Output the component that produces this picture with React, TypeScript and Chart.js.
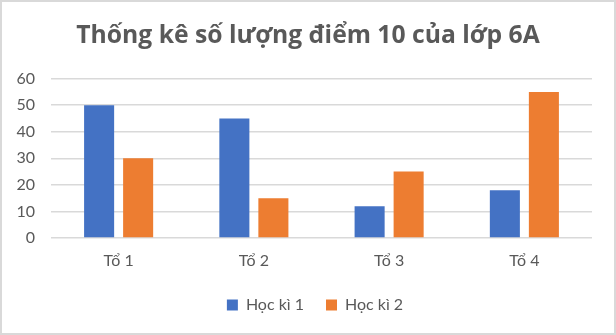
import React, { useEffect, useRef } from "react";
import { Chart, registerables } from "chart.js";

Chart.register(...registerables);

const categories = ["Tổ 1", "Tổ 2", "Tổ 3", "Tổ 4"];
const hocKi1 = [50, 45, 12, 18];
const hocKi2 = [30, 15, 25, 55];
const seriesNames = ["Học kì 1", "Học kì 2"];
const titleText = "Thống kê số lượng điểm 10 của lớp 6A";
const yMin = 0;
const yMax = 60;
const yStep = 10;

const TEXT = "#595959";
const GRID = "#d9d9d9";
const FONT = "Lato, 'Open Sans', sans-serif";
const TITLE_FONT = "'Open Sans', Lato, sans-serif";

const borderPlugin = {
  id: "outerBorder",
  afterLayout(chart: any) {
    // centre title and legend on the full canvas rather than on the padded box
    if (chart.titleBlock) {
      chart.titleBlock.left += 12;
      chart.titleBlock.right += 12;
    }
    if (chart.legend) {
      chart.legend.left += 19;
      chart.legend.right += 19;
    }
  },
  afterDraw(chart: any) {
    const ctx = chart.ctx;
    ctx.save();
    ctx.strokeStyle = GRID;
    ctx.lineWidth = 2;
    ctx.strokeRect(1, 1, chart.width - 2, chart.height - 2);
    ctx.restore();
  },
};

export default function App() {
  const ref = useRef<HTMLCanvasElement | null>(null);

  useEffect(() => {
    document.body.style.margin = "0";
    const canvas = ref.current;
    if (!canvas) return;
    const chart = new Chart(canvas, {
      type: "bar",
      data: {
        labels: categories,
        datasets: [
          {
            label: seriesNames[0],
            data: hocKi1,
            backgroundColor: "#4472C4",
            categoryPercentage: 0.577,
            barPercentage: 0.77,
          },
          {
            label: seriesNames[1],
            data: hocKi2,
            backgroundColor: "#ED7D31",
            categoryPercentage: 0.577,
            barPercentage: 0.77,
          },
        ],
      },
      plugins: [borderPlugin],
      options: {
        responsive: false,
        animation: false,
        devicePixelRatio: 1,
        layout: { padding: { left: 0, right: 24, top: 0, bottom: 12 } },
        plugins: {
          title: {
            display: true,
            text: titleText,
            color: TEXT,
            font: { family: TITLE_FONT, size: 24.7, weight: "bold" },
            padding: { top: 21, bottom: 28 },
          },
          legend: {
            display: true,
            position: "bottom",
            labels: {
              color: TEXT,
              font: { family: FONT, size: 16 },
              boxWidth: 11,
              boxHeight: 11,
              padding: 22,
            },
          },
          tooltip: { enabled: false },
        },
        scales: {
          x: {
            grid: { display: false, drawTicks: false },
            border: { display: false },
            ticks: {
              color: TEXT,
              font: { family: FONT, size: 16 },
              padding: 13,
            },
            afterFit(scale: any) {
              scale.height = 37;
            },
          },
          y: {
            min: yMin,
            max: yMax,
            ticks: {
              stepSize: yStep,
              color: TEXT,
              font: { family: FONT, size: 16 },
              padding: 16,
            },
            grid: { color: GRID, lineWidth: 1.5, drawTicks: false },
            border: { display: false },
            afterFit(scale: any) {
              scale.width = 51;
            },
          },
        },
      },
    });
    return () => chart.destroy();
  }, []);

  return (
    <div style={{ width: 616, height: 335 }}>
      <canvas ref={ref} width={616} height={335} style={{ display: "block" }} />
    </div>
  );
}
